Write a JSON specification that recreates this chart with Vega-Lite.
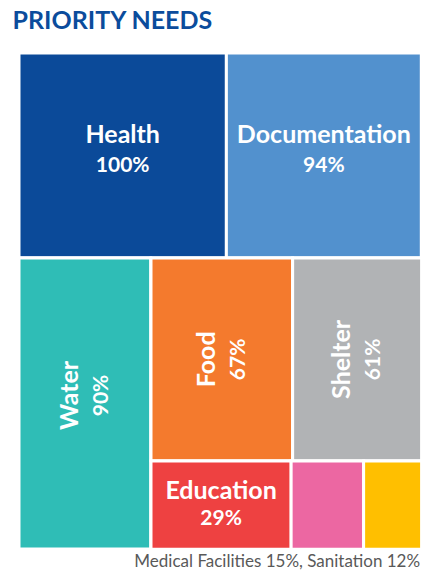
{
  "$schema": "https://vega.github.io/schema/vega-lite/v6.json",
  "background": "white",
  "padding": {"left": 12, "top": 8, "right": 5, "bottom": 0},
  "title": {"text": "PRIORITY NEEDS", "anchor": "start", "fontSize": 25, "font": "Lato", "fontWeight": "bold", "color": "#0B4C9C", "offset": 18, "dx": -5},
  "config": {"view": {"stroke": null}},
  "datasets": {
    "needs": [
      {"name": "Health", "value": 1.00, "block": "A"},
      {"name": "Documentation", "value": 0.94, "block": "A"},
      {"name": "Water", "value": 0.90, "block": "W"},
      {"name": "Food", "value": 0.67, "block": "C"},
      {"name": "Shelter", "value": 0.61, "block": "C"},
      {"name": "Education", "value": 0.29, "block": "D"},
      {"name": "Medical Facilities", "value": 0.15, "block": "D"},
      {"name": "Sanitation", "value": 0.12, "block": "D"}
    ]
  },
  "spacing": 0,
  "bounds": "flush",
  "vconcat": [
    {
      "width": 402.3,
      "height": 204.7,
      "data": {"name": "needs"},
      "transform": [
        {"filter": "datum.block === 'A'"},
        {"stack": "value", "groupby": ["block"], "sort": [{"field": "value", "order": "descending"}], "offset": "normalize", "as": ["v0", "v1"]},
        {"calculate": "(datum.v0 + datum.v1) / 2", "as": "mid"}
      ],
      "layer": [
        {
          "mark": {"type": "rect", "stroke": "white", "strokeWidth": 3},
          "encoding": {
            "x": {"field": "v0", "type": "quantitative", "scale": {"domain": [0, 1], "nice": false}, "axis": null},
            "x2": {"field": "v1"},
            "y": {"value": 0},
            "y2": {"value": "height"},
            "color": {"field": "name", "type": "nominal", "legend": null,
              "scale": {"domain": ["Health", "Documentation", "Water", "Food", "Shelter", "Education", "Medical Facilities", "Sanitation"],
                        "range": ["#0B4A99", "#5291CE", "#2FBDB6", "#F47A2D", "#B1B3B5", "#EE4141", "#EC67A2", "#FFBF00"]}}
          }
        },
        {
          "mark": {"type": "text", "font": "Lato", "fontWeight": "bold", "fontSize": 25, "color": "white", "baseline": "middle", "dy": -20},
          "encoding": {"x": {"field": "mid", "type": "quantitative"}, "text": {"field": "name"}}
        },
        {
          "mark": {"type": "text", "font": "Lato", "fontWeight": "bold", "fontSize": 21, "color": "white", "baseline": "middle", "dy": 11},
          "encoding": {"x": {"field": "mid", "type": "quantitative"}, "text": {"field": "value", "format": ".0%"}}
        }
      ]
    },
    {
      "spacing": 0,
      "bounds": "flush",
      "hconcat": [
        {
          "width": 131.7,
          "height": 291,
          "data": {"name": "needs"},
          "transform": [
            {"filter": "datum.block === 'W'"},
            {"stack": "value", "groupby": ["block"], "sort": [{"field": "value", "order": "descending"}], "offset": "normalize", "as": ["v0", "v1"]},
            {"calculate": "(datum.v0 + datum.v1) / 2", "as": "mid"}
          ],
          "layer": [
            {
              "mark": {"type": "rect", "stroke": "white", "strokeWidth": 3},
              "encoding": {
                "x": {"field": "v0", "type": "quantitative", "scale": {"domain": [0, 1], "nice": false}, "axis": null},
                "x2": {"field": "v1"},
                "y": {"value": 0},
                "y2": {"value": "height"},
                "color": {"field": "name", "type": "nominal", "legend": null}
              }
            },
            {
              "mark": {"type": "text", "font": "Lato", "fontWeight": "bold", "fontSize": 25, "color": "white", "baseline": "middle", "angle": 270, "dy": -15, "dx": 8},
              "encoding": {"x": {"field": "mid", "type": "quantitative"}, "text": {"field": "name"}}
            },
            {
              "mark": {"type": "text", "font": "Lato", "fontWeight": "bold", "fontSize": 21, "color": "white", "baseline": "middle", "angle": 270, "dy": 17, "dx": 8},
              "encoding": {"x": {"field": "mid", "type": "quantitative"}, "text": {"field": "value", "format": ".0%"}}
            }
          ]
        },
        {
          "spacing": 0,
          "bounds": "flush",
          "vconcat": [
            {
              "width": 270.6,
              "height": 202.7,
              "data": {"name": "needs"},
              "transform": [
                {"filter": "datum.block === 'C'"},
                {"stack": "value", "groupby": ["block"], "sort": [{"field": "value", "order": "descending"}], "offset": "normalize", "as": ["v0", "v1"]},
                {"calculate": "(datum.v0 + datum.v1) / 2", "as": "mid"}
              ],
              "layer": [
                {
                  "mark": {"type": "rect", "stroke": "white", "strokeWidth": 3},
                  "encoding": {
                    "x": {"field": "v0", "type": "quantitative", "scale": {"domain": [0, 1], "nice": false}, "axis": null},
                    "x2": {"field": "v1"},
                    "y": {"value": 0},
                    "y2": {"value": "height"},
                    "color": {"field": "name", "type": "nominal", "legend": null}
                  }
                },
                {
                  "mark": {"type": "text", "font": "Lato", "fontWeight": "bold", "fontSize": 25, "color": "white", "baseline": "middle", "angle": 270, "dy": -15},
                  "encoding": {"x": {"field": "mid", "type": "quantitative"}, "text": {"field": "name"}}
                },
                {
                  "mark": {"type": "text", "font": "Lato", "fontWeight": "bold", "fontSize": 21, "color": "white", "baseline": "middle", "angle": 270, "dy": 17},
                  "encoding": {"x": {"field": "mid", "type": "quantitative"}, "text": {"field": "value", "format": ".0%"}}
                }
              ]
            },
            {
              "width": 270.6,
              "height": 88.3,
              "title": {"text": "Medical Facilities 15%, Sanitation 12%", "orient": "bottom", "anchor": "end", "font": "Lato", "fontSize": 17, "fontWeight": "normal", "color": "#595959", "offset": 3, "dx": -3},
              "data": {"name": "needs"},
              "transform": [
                {"filter": "datum.block === 'D'"},
                {"stack": "value", "groupby": ["block"], "sort": [{"field": "value", "order": "descending"}], "offset": "normalize", "as": ["v0", "v1"]},
                {"calculate": "(datum.v0 + datum.v1) / 2", "as": "mid"}
              ],
              "layer": [
                {
                  "mark": {"type": "rect", "stroke": "white", "strokeWidth": 3},
                  "encoding": {
                    "x": {"field": "v0", "type": "quantitative", "scale": {"domain": [0, 1], "nice": false}, "axis": null},
                    "x2": {"field": "v1"},
                    "y": {"value": 0},
                    "y2": {"value": "height"},
                    "color": {"field": "name", "type": "nominal", "legend": null}
                  }
                },
                {
                  "transform": [{"filter": "datum.value >= 0.2"}],
                  "mark": {"type": "text", "font": "Lato", "fontWeight": "bold", "fontSize": 25, "color": "white", "baseline": "middle", "dy": -14},
                  "encoding": {"x": {"field": "mid", "type": "quantitative"}, "text": {"field": "name"}}
                },
                {
                  "transform": [{"filter": "datum.value >= 0.2"}],
                  "mark": {"type": "text", "font": "Lato", "fontWeight": "bold", "fontSize": 21, "color": "white", "baseline": "middle", "dy": 14},
                  "encoding": {"x": {"field": "mid", "type": "quantitative"}, "text": {"field": "value", "format": ".0%"}}
                }
              ]
            }
          ]
        }
      ]
    }
  ]
}
